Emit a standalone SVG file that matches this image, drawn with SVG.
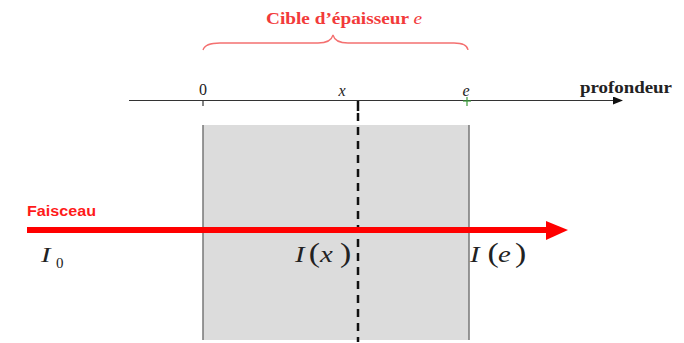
<svg xmlns="http://www.w3.org/2000/svg" width="684" height="343" viewBox="0 0 684 343">
<style>
.serif{font-family:"Liberation Serif","Times New Roman",serif}
.math{font-family:"Liberation Serif","Times New Roman",serif;fill:#222}
.lbl{font-family:"Liberation Serif","Times New Roman",serif;fill:#222}
</style>
<defs>
<marker id="axhead" markerWidth="10" markerHeight="8" refX="9" refY="4" orient="auto" markerUnits="userSpaceOnUse">
<path d="M0,0 L10,4 L0,8 Z" fill="#111"/>
</marker>
</defs>
<rect width="684" height="343" fill="#fff"/>
<g id="target">
<rect x="203" y="125" width="266" height="215" fill="#dcdcdc"/>
<line x1="203" y1="125" x2="203" y2="340" stroke="#777" stroke-width="1.5"/>
<line x1="469" y1="125" x2="469" y2="340" stroke="#777" stroke-width="1.5"/>
</g>
<g id="title">
<text x="266" y="24" class="serif" font-size="17" font-weight="bold" fill="#f23a3a" textLength="156" lengthAdjust="spacingAndGlyphs">Cible d’épaisseur <tspan font-style="italic" font-weight="normal">e</tspan></text>
<path d="M203,50 Q205,43 220,43 L318,43 Q331,43 333,35 Q335,43 348,43 L454,43 Q467,43 468,50" fill="none" stroke="#f47070" stroke-width="1.3"/>
</g>
<g id="axis">
<line x1="129" y1="100.5" x2="622" y2="100.5" stroke="#333" stroke-width="1.2" marker-end="url(#axhead)"/>
<line x1="203" y1="101" x2="203" y2="106" stroke="#333" stroke-width="1.2"/>
<line x1="467" y1="97" x2="467" y2="106" stroke="#3a9a3a" stroke-width="1.2"/>
<line x1="463" y1="101" x2="471" y2="101" stroke="#3a9a3a" stroke-width="1.2"/>
<text x="203" y="95" text-anchor="middle" class="lbl" font-size="16">0</text>
<text x="342" y="96" text-anchor="middle" class="lbl" font-size="16" font-style="italic">x</text>
<text x="466" y="96" text-anchor="middle" class="lbl" font-size="16" font-style="italic">e</text>
<text x="580" y="93" class="lbl" font-weight="bold" font-size="16" textLength="92" lengthAdjust="spacingAndGlyphs">profondeur</text>
</g>
<g id="connectors">
<line x1="358" y1="101" x2="358" y2="111" stroke="#111" stroke-width="2.5"/>
<line x1="358" y1="113" x2="358" y2="342" stroke="#111" stroke-width="2.5" stroke-dasharray="8,6"/>
<line x1="27" y1="230" x2="548" y2="230" stroke="#ff0000" stroke-width="6"/>
<path d="M546,221 L568,230 L546,240 Z" fill="#ff0000"/>
</g>
<g id="labels">
<text x="27" y="216" font-family="Liberation Sans, Arial, sans-serif" font-size="14" font-weight="bold" fill="#ff1a1a" textLength="69" lengthAdjust="spacingAndGlyphs">Faisceau</text>
<text transform="translate(41,262) scale(1.3,1)" class="math" font-size="22" font-style="italic">I</text>
<text x="56" y="268" class="math" font-size="15">0</text>
<text transform="translate(295,262) scale(1.25,1)" class="math" font-size="23"><tspan x="0" font-style="italic">I</tspan><tspan x="11" font-size="27">(</tspan><tspan x="20" font-style="italic">x</tspan><tspan x="36" font-size="27">)</tspan></text>
<text transform="translate(470,262) scale(1.25,1)" class="math" font-size="23"><tspan x="0" font-style="italic">I</tspan><tspan x="14" font-size="27">(</tspan><tspan x="22.5" font-style="italic">e</tspan><tspan x="36" font-size="27">)</tspan></text>
</g>
</svg>
